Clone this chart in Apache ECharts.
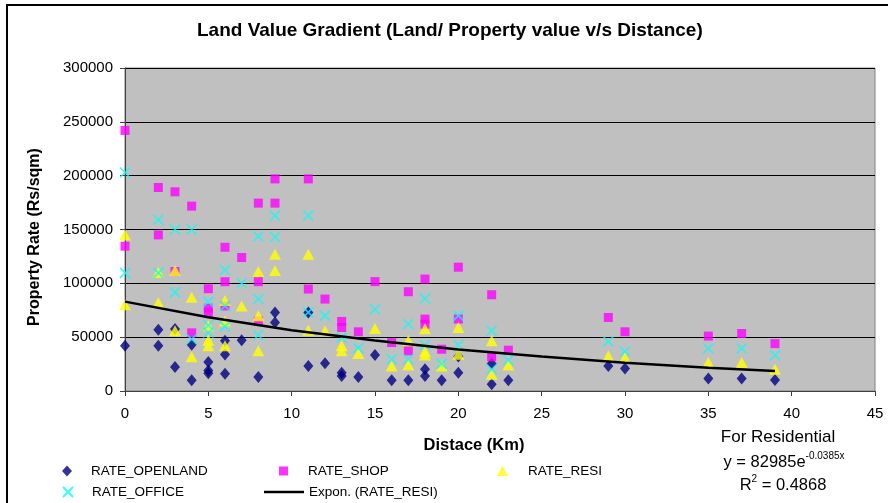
<!DOCTYPE html>
<html>
<head>
<meta charset="utf-8">
<title>Land Value Gradient</title>
<script src="https://cdn.jsdelivr.net/npm/echarts@6/dist/echarts.min.js"></script>
<style>
  html, body { margin: 0; padding: 0; background: #fff; }
  #chart { width: 888px; height: 503px; }
</style>
</head>
<body>
<div id="chart"></div>
<script>
// [distance km, rate Rs/sqm]
const rateOpenland = [
  [0, 42000], [2, 57000], [2, 42000], [3, 57500], [3, 22400], [4, 43000], [4, 10000],
  [5, 27000], [5, 19000], [5, 16500], [6, 46600], [6, 34000], [6, 16000], [7, 47200],
  [8, 13000], [9, 73000], [9, 63600], [11, 73000], [11, 23300], [12, 25800], [13, 17000],
  [13, 14000], [14, 13000], [15, 33500], [16, 10000], [17, 10000], [18, 20200], [18, 14000],
  [19, 10000], [20, 17000], [20, 32000], [22, 25400], [22, 6200], [23, 10000], [29, 23300],
  [30, 20800], [35, 11500], [37, 11500], [39, 10200]
]
const rateShop = [
  [0, 242000], [0, 134500], [2, 189000], [2, 145000], [3, 185000], [3, 111000], [4, 171700],
  [4, 54000], [5, 95000], [5, 77000], [5, 73000], [6, 133500], [6, 101500], [6, 79000],
  [7, 124000], [8, 174500], [8, 101500], [8, 65000], [9, 197000], [9, 174500], [11, 197000],
  [11, 94700], [12, 85400], [13, 64600], [13, 59000], [14, 55000], [15, 101600], [16, 45000],
  [17, 92200], [17, 37300], [18, 104000], [18, 66800], [18, 62000], [19, 38800], [20, 115000],
  [20, 66800], [22, 89400], [22, 31700], [23, 37900], [29, 68300], [30, 55000], [35, 51000],
  [37, 53400], [39, 44000]
]
const rateResi = [
  [0, 145000], [0, 80000], [2, 110000], [2, 82000], [3, 112000], [3, 56000], [4, 87000],
  [4, 31700], [5, 60500], [5, 47200], [5, 42000], [6, 84000], [6, 65000], [6, 42000],
  [7, 79000], [8, 111000], [8, 70000], [8, 37300], [9, 127000], [9, 112000], [11, 127000],
  [11, 56500], [12, 56000], [13, 42000], [13, 37300], [14, 34800], [15, 58000], [16, 23300],
  [17, 46600], [17, 24200], [18, 57800], [18, 36600], [18, 33500], [19, 23300], [20, 59000],
  [20, 34200], [22, 46600], [22, 15500], [23, 24200], [29, 32600], [30, 31000], [35, 26400],
  [37, 26400], [39, 20200]
]
const rateOffice = [
  [0, 203000], [0, 109700], [2, 159000], [2, 109700], [3, 150000], [3, 91600], [4, 150000],
  [4, 48000], [5, 83000], [5, 61000], [5, 54300], [6, 112400], [6, 79000], [6, 60000],
  [7, 100000], [8, 143500], [8, 85500], [8, 51800], [9, 163000], [9, 143000], [11, 163000],
  [11, 73000], [12, 70000], [13, 49700], [14, 39800], [15, 76000], [16, 29500], [17, 62000],
  [17, 29500], [18, 86000], [18, 42800], [19, 25400], [20, 70000], [20, 42800], [22, 56000],
  [22, 20200], [23, 28600], [29, 46000], [30, 36600], [35, 39400], [37, 39400], [39, 33200]
]
// exponential trendline of RATE_RESI
const trendResi = [
  [0, 83000], [5, 68500], [10, 56500], [15, 46800], [20, 38500],
  [25, 32000], [30, 26300], [35, 21700], [39, 18600]
]
const xTicks = { min: 0, max: 45, step: 5 }
const yTicks = { min: 0, max: 300000, step: 50000 }

const FONT = "'Liberation Sans', Arial, sans-serif"
const chart = echarts.init(document.getElementById('chart'))

// one legend block per entry so each sits where the reference puts it
function legendItem(name, left, top, w, h, pad, icon) {
  const item = { name: name }
  if (icon) item.icon = icon
  return {
    data: [item],
    left: left, top: top,
    padding: 0,
    itemWidth: w, itemHeight: h,
    textStyle: { fontFamily: FONT, fontSize: 13.5, color: '#000', padding: [0, 0, 0, pad] }
  }
}

const supRich = {
  n: { fontFamily: FONT, fontSize: 16.5, fill: '#000', lineHeight: 20, verticalAlign: 'bottom' },
  s: { fontFamily: FONT, fontSize: 10, fill: '#000', verticalAlign: 'top' }
}

const option = {
  animation: false,
  textStyle: { fontFamily: FONT, color: '#000' },
  title: {
    text: 'Land Value Gradient (Land/ Property value v/s Distance)',
    left: 197,
    top: 21,
    padding: 0,
    textStyle: { fontFamily: FONT, fontSize: 19, fontWeight: 'bold', color: '#000' }
  },
  grid: {
    left: 125, right: 13, top: 68, bottom: 112,
    show: true,
    backgroundColor: '#c0c0c0',
    borderColor: '#808080',
    borderWidth: 1
  },
  legend: [
    legendItem('RATE_OPENLAND', 62, 464, 10, 11, 14),
    legendItem('RATE_SHOP', 279, 464, 9, 9, 15),
    legendItem('RATE_RESI', 497, 464, 11, 10, 15),
    legendItem('RATE_OFFICE', 62, 485, 10, 10, 14),
    legendItem('Expon. (RATE_RESI)', 264, 485, 40, 2.5, 0, 'rect')
  ],
  xAxis: {
    type: 'value',
    min: xTicks.min, max: xTicks.max, interval: xTicks.step,
    axisLine: { lineStyle: { color: '#404040', width: 1 } },
    axisTick: { show: true, length: 5, lineStyle: { color: '#404040' } },
    axisLabel: { fontSize: 15, color: '#000', margin: 15 },
    splitLine: { show: false }
  },
  yAxis: {
    type: 'value',
    min: yTicks.min, max: yTicks.max, interval: yTicks.step,
    axisLine: { show: true, lineStyle: { color: '#404040', width: 1 } },
    axisTick: { show: true, length: 5, lineStyle: { color: '#404040' } },
    axisLabel: { fontSize: 15, color: '#000', margin: 12, formatter: v => String(v) },
    splitLine: { show: true, lineStyle: { color: '#000', width: 1 } }
  },
  series: [
    {
      name: 'RATE_OPENLAND',
      type: 'scatter',
      symbol: 'diamond',
      symbolSize: [10, 12],
      itemStyle: { color: '#000080' },
      data: rateOpenland
    },
    {
      name: 'RATE_SHOP',
      type: 'scatter',
      symbol: 'rect',
      symbolSize: 9,
      itemStyle: { color: '#ff00ff' },
      data: rateShop
    },
    {
      name: 'RATE_RESI',
      type: 'scatter',
      symbol: 'triangle',
      symbolSize: [12, 11],
      itemStyle: { color: '#ffff00' },
      data: rateResi
    },
    {
      name: 'RATE_OFFICE',
      type: 'scatter',
      symbol: 'path://M0,0L10,10M10,0L0,10',
      symbolSize: 10,
      itemStyle: { color: 'rgba(0,0,0,0)', borderColor: '#00ffff', borderWidth: 1.5 },
      data: rateOffice
    },
    {
      name: 'Expon. (RATE_RESI)',
      type: 'line',
      symbol: 'none',
      lineStyle: { color: '#000', width: 2.5 },
      itemStyle: { color: '#000' },
      data: trendResi
    }
  ],
  graphic: [
    {
      type: 'rect',
      shape: { x: 7, y: 5, width: 900, height: 520 },
      style: { fill: 'none', stroke: '#000', lineWidth: 2 },
      silent: true
    },
    {
      type: 'text',
      x: 35, y: 237,
      rotation: Math.PI / 2,
      style: {
        text: 'Property Rate (Rs/sqm)', font: 'bold 16px ' + FONT,
        fill: '#000', align: 'center', verticalAlign: 'middle'
      }
    },
    {
      type: 'text',
      x: 474, y: 445,
      style: {
        text: 'Distace (Km)', font: 'bold 16.5px ' + FONT,
        fill: '#000', align: 'center', verticalAlign: 'middle'
      }
    },
    {
      type: 'text',
      x: 778, y: 437,
      style: {
        text: 'For Residential', font: '17px ' + FONT,
        fill: '#000', align: 'center', verticalAlign: 'middle'
      }
    },
    {
      type: 'text',
      x: 784, y: 461,
      style: {
        text: '{n|y = 82985e}{s|-0.0385x}',
        align: 'center', verticalAlign: 'middle',
        rich: supRich
      }
    },
    {
      type: 'text',
      x: 783, y: 484,
      style: {
        text: '{n|R}{s|2}{n| = 0.4868}',
        align: 'center', verticalAlign: 'middle',
        rich: supRich
      }
    }
  ]
}

chart.setOption(option)
</script>
</body>
</html>
